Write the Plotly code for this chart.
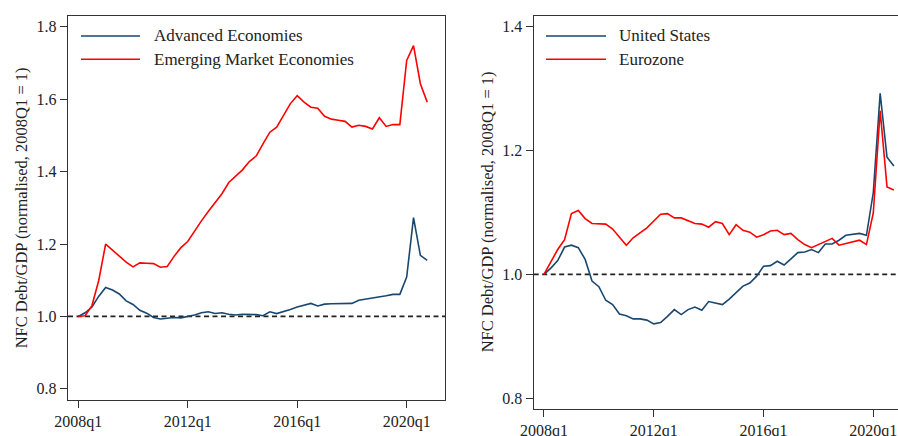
import plotly.graph_objects as go

quarters = [f"{y}q{q}" for y in range(2008, 2021) for q in range(1, 5)]
tick_labels = ["2008q1", "2012q1", "2016q1", "2020q1"]

advanced = [1.000, 1.010, 1.026, 1.056, 1.080, 1.073, 1.062, 1.043, 1.033, 1.017,
            1.009, 0.997, 0.993, 0.996, 0.997, 0.996, 0.999, 1.004, 1.010, 1.013,
            1.008, 1.010, 1.006, 1.004, 1.006, 1.006, 1.005, 1.002, 1.013, 1.008,
            1.013, 1.019, 1.026, 1.031, 1.036, 1.029, 1.034, 1.035, 1.035, 1.036,
            1.036, 1.045, 1.048, 1.050, 1.052, 1.057, 1.061, 1.061, 1.109, 1.273,
            1.169, 1.155]
emerging = [1.000, 1.002, 1.030, 1.100, 1.200, 1.183, 1.166, 1.150, 1.137, 1.148,
            1.147, 1.146, 1.136, 1.138, 1.166, 1.190, 1.207, 1.237, 1.264, 1.290,
            1.315, 1.339, 1.370, 1.387, 1.405, 1.428, 1.443, 1.477, 1.509, 1.523,
            1.555, 1.588, 1.610, 1.592, 1.578, 1.575, 1.553, 1.545, 1.542, 1.539,
            1.523, 1.528, 1.525, 1.518, 1.549, 1.525, 1.530, 1.530, 1.707, 1.748,
            1.643, 1.592]
united_states = [1.000, 1.010, 1.022, 1.044, 1.047, 1.043, 1.024, 0.989, 0.980, 0.958,
                 0.951, 0.936, 0.933, 0.928, 0.928, 0.926, 0.920, 0.922, 0.932, 0.943,
                 0.935, 0.943, 0.947, 0.942, 0.956, 0.953, 0.951, 0.960, 0.971, 0.981,
                 0.986, 0.997, 1.013, 1.014, 1.021, 1.015, 1.025, 1.035, 1.036, 1.040,
                 1.035, 1.049, 1.049, 1.055, 1.063, 1.064, 1.066, 1.063, 1.132, 1.292,
                 1.189, 1.175]
eurozone = [1.000, 1.021, 1.040, 1.056, 1.098, 1.103, 1.090, 1.082, 1.082, 1.081,
            1.073, 1.060, 1.047, 1.059, 1.067, 1.075, 1.086, 1.097, 1.098, 1.091,
            1.091, 1.086, 1.082, 1.081, 1.076, 1.085, 1.082, 1.064, 1.080, 1.071,
            1.068, 1.060, 1.064, 1.070, 1.071, 1.064, 1.066, 1.056, 1.048, 1.043,
            1.048, 1.053, 1.058, 1.047, 1.050, 1.053, 1.055, 1.048, 1.099, 1.264,
            1.141, 1.136]

left_yticks = [0.8, 1.0, 1.2, 1.4, 1.6, 1.8]
right_yticks = [0.8, 1.0, 1.2, 1.4]
y_title = "NFC Debt/GDP (normalised, 2008Q1 = 1)"

BLUE = "#1a476f"
RED = "#ff0000"
AX = "#333333"
TXT = "#222222"
FONT = "Liberation Serif"
W, H = 898, 436

fig = go.Figure()
fig.add_trace(go.Scatter(x=quarters, y=advanced, mode="lines", name="Advanced Economies",
                         line=dict(color=BLUE, width=1.6), xaxis="x", yaxis="y"))
fig.add_trace(go.Scatter(x=quarters, y=emerging, mode="lines", name="Emerging Market Economies",
                         line=dict(color=RED, width=1.6), xaxis="x", yaxis="y"))
fig.add_trace(go.Scatter(x=quarters, y=united_states, mode="lines", name="United States",
                         line=dict(color=BLUE, width=1.6), xaxis="x2", yaxis="y2"))
fig.add_trace(go.Scatter(x=quarters, y=eurozone, mode="lines", name="Eurozone",
                         line=dict(color=RED, width=1.6), xaxis="x2", yaxis="y2"))

axis_common = dict(showgrid=False, zeroline=False, showline=True, linecolor=AX, linewidth=1.4,
                   ticks="outside", ticklen=7, tickwidth=1.2, tickcolor=AX, automargin=False,
                   tickfont=dict(family=FONT, size=16, color=TXT))

fig.update_layout(
    width=W, height=H,
    margin=dict(l=0, r=0, t=0, b=0, pad=0),
    paper_bgcolor="white", plot_bgcolor="white",
    showlegend=False,
    xaxis=dict(domain=[68 / W, 445 / W], anchor="y", type="category", categoryarray=quarters,
               range=[-1.5, 53.6], tickvals=tick_labels, ticktext=tick_labels, mirror=True,
               **axis_common),
    yaxis=dict(domain=[1 - 399.7 / H, 1 - 16 / H], anchor="x", range=[0.77, 1.83],
               tickvals=left_yticks, tickformat=".1f", mirror=True, **axis_common),
    xaxis2=dict(domain=[533.7 / W, 1.0], anchor="y2", type="category", categoryarray=quarters,
                range=[-1.5, 51.6], tickvals=tick_labels, ticktext=tick_labels, mirror=True,
                **axis_common),
    yaxis2=dict(domain=[1 - 408.7 / H, 1 - 16 / H], anchor="x2", range=[0.783, 1.417],
                tickvals=right_yticks, tickformat=".1f", mirror=False, **axis_common),
)

# reference lines at 1.0
for xr, yr in [("x domain", "y"), ("x2 domain", "y2")]:
    fig.add_shape(type="line", xref=xr, yref=yr, x0=0, x1=1, y0=1.0, y1=1.0,
                  line=dict(color=TXT, width=1.8, dash="5px,3.5px"), layer="below")

# y-axis titles
for xc, yc in [(21.5, (16 + 399.7) / 2), (487, (16 + 408.7) / 2)]:
    fig.add_annotation(text=y_title, xref="paper", yref="paper", x=xc / W, y=1 - yc / H,
                       textangle=-90, showarrow=False, xanchor="center", yanchor="middle",
                       font=dict(family=FONT, size=16.5, color=TXT))

# legends
legend_items = [
    (81, 140, 152, 36, "Advanced Economies", BLUE),
    (81, 140, 152, 59.3, "Emerging Market Economies", RED),
    (546, 606, 617, 36, "United States", BLUE),
    (546, 606, 617, 59.3, "Eurozone", RED),
]
for x0, x1, xt, yy, label, col in legend_items:
    fig.add_shape(type="line", xref="paper", yref="paper", x0=x0 / W, x1=x1 / W,
                  y0=1 - yy / H, y1=1 - yy / H, line=dict(color=col, width=1.6))
    fig.add_annotation(text=label, xref="paper", yref="paper", x=xt / W, y=1 - yy / H,
                       showarrow=False, xanchor="left", yanchor="middle",
                       font=dict(family=FONT, size=17, color=TXT))

fig.write_html("out.html", config={"displayModeBar": False},
               post_script="document.body.style.margin='0';document.body.style.overflow='hidden';")
